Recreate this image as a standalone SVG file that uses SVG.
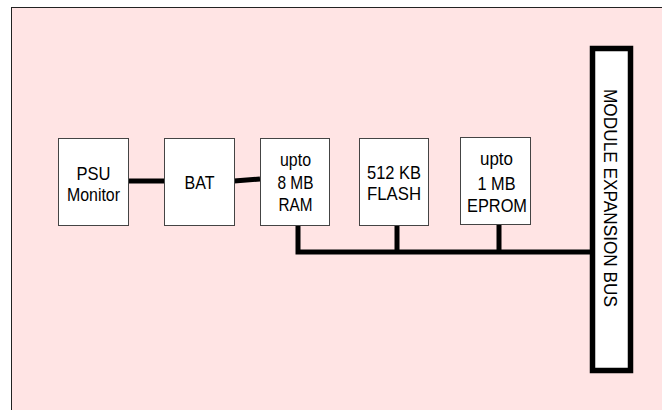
<svg xmlns="http://www.w3.org/2000/svg" width="662" height="410" viewBox="0 0 662 410">
<style>
.node rect{fill:#fff;stroke:#444;stroke-width:1}
.lbl{font-family:"Liberation Sans",Arial,sans-serif;font-size:18.5px;fill:#000;text-anchor:middle}
.wire{stroke:#000;stroke-width:5;fill:none;stroke-linecap:butt}
</style>
<rect x="0" y="0" width="662" height="410" fill="#fff"/>
<rect x="11.5" y="7.5" width="660" height="410" fill="#ffe4e4" stroke="#222" stroke-width="1"/>
<g id="connectors">
<line class="wire" x1="128" y1="181" x2="164" y2="181"/>
<line class="wire" x1="234" y1="181" x2="260" y2="179"/>
<polyline class="wire" points="298,225 298,252 590,252"/>
<line class="wire" x1="397" y1="225" x2="397" y2="252"/>
<line class="wire" x1="499" y1="224" x2="499" y2="252"/>
</g>
<g id="psu" class="node">
<rect x="58.5" y="138.5" width="70" height="87"/>
<text class="lbl" x="93.5" y="180" textLength="34" lengthAdjust="spacingAndGlyphs">PSU</text>
<text class="lbl" x="93.5" y="201" textLength="53" lengthAdjust="spacingAndGlyphs">Monitor</text>
</g>
<g id="bat" class="node">
<rect x="164.5" y="138.5" width="70" height="87"/>
<text class="lbl" x="199.5" y="189" textLength="30" lengthAdjust="spacingAndGlyphs">BAT</text>
</g>
<g id="ram" class="node">
<rect x="260.5" y="138.5" width="69" height="87"/>
<text class="lbl" x="295.5" y="166" textLength="31" lengthAdjust="spacingAndGlyphs">upto</text>
<text class="lbl" x="295.5" y="189" textLength="36" lengthAdjust="spacingAndGlyphs">8 MB</text>
<text class="lbl" x="295.5" y="211" textLength="34" lengthAdjust="spacingAndGlyphs">RAM</text>
</g>
<g id="flash" class="node">
<rect x="359.5" y="138.5" width="69" height="87"/>
<text class="lbl" x="394" y="179" textLength="54" lengthAdjust="spacingAndGlyphs">512 KB</text>
<text class="lbl" x="394" y="200" textLength="54" lengthAdjust="spacingAndGlyphs">FLASH</text>
</g>
<g id="eprom" class="node">
<rect x="460.5" y="137.5" width="70" height="87"/>
<text class="lbl" x="496.5" y="165" textLength="33" lengthAdjust="spacingAndGlyphs">upto</text>
<text class="lbl" x="496.5" y="190" textLength="38" lengthAdjust="spacingAndGlyphs">1 MB</text>
<text class="lbl" x="497" y="212" textLength="60" lengthAdjust="spacingAndGlyphs">EPROM</text>
</g>
<g id="bus">
<rect x="592.5" y="48.5" width="38" height="322" fill="#fff" stroke="#000" stroke-width="5.5"/>
<text transform="translate(603.5,198) rotate(90)" font-family="Liberation Sans,Arial,sans-serif" font-size="18.5" text-anchor="middle" textLength="218" lengthAdjust="spacingAndGlyphs">MODULE EXPANSION BUS</text>
</g>
</svg>
